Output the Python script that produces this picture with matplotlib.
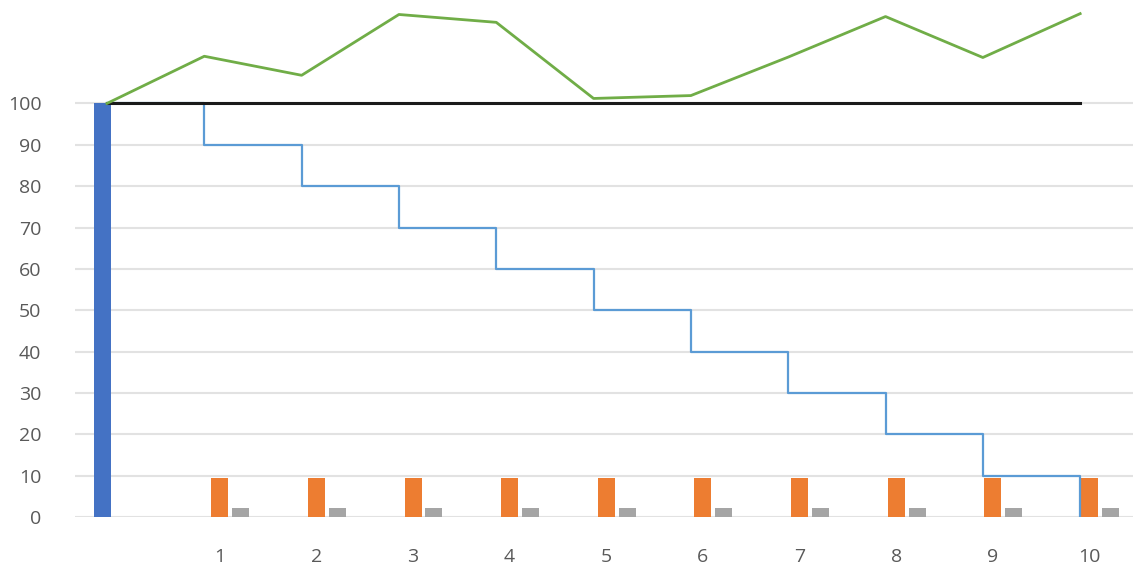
import numpy as np
import matplotlib
matplotlib.use("Agg")
import matplotlib.pyplot as plt

plt.rcParams["font.family"] = ["Open Sans", "DejaVu Sans"]

# ======================
# Data
# ======================

categories = ["", "1", "2", "3", "4", "5", "6", "7", "8", "9", "10"]
blue_bars = [100, 0, 0, 0, 0, 0, 0, 0, 0, 0, 0]
orange_bars = [0, 9.5, 9.5, 9.5, 9.5, 9.5, 9.5, 9.5, 9.5, 9.5, 9.5]
gray_bars = [0, 2.1, 2.1, 2.1, 2.1, 2.1, 2.1, 2.1, 2.1, 2.1, 2.1]

line_steps = [0, 1, 2, 3, 4, 5, 6, 7, 8, 9, 10]
step_values = [100, 90, 80, 70, 60, 50, 40, 30, 20, 10, 0]
green_values = [100, 111.4, 106.8, 121.5, 119.6, 101.2, 101.9, 111.2, 121.0, 111.1, 121.7]
black_values = [100] * 11

# ======================
# Plot
# ======================

fig = plt.figure(figsize=(11.33, 5.67), dpi=100)
ax = fig.add_axes([0.066, 0.088, 0.934, 0.912])

x = np.arange(len(categories))
w = 0.176
gap = 0.217

ax.bar(x - gap, blue_bars, width=w, color="#4472C4", zorder=2)
ax.bar(x, orange_bars, width=w, color="#ED7D31", zorder=2)
ax.bar(x + gap, gray_bars, width=w, color="#A5A5A5", zorder=2)

ax.set_xlim(-0.5, 10.45)
ax.set_ylim(0, 125)
ax.set_yticks(np.arange(0, 101, 10))
ax.set_xticks(x)
ax.set_xticklabels(categories)

ax.grid(axis="y", color="#E2E2E2", linewidth=1.5, zorder=0)
ax.set_axisbelow(True)
for s in ax.spines.values():
    s.set_visible(False)
ax.tick_params(axis="both", length=0, labelsize=14, colors="#595959")
ax.tick_params(axis="y", pad=24)
ax.tick_params(axis="x", pad=22)

# lines on a secondary x scale
ax2 = ax.twiny()
ax2.set_xlim(-0.331, 10.543)
ax2.set_ylim(0, 125)
ax2.axis("off")

ax2.step(line_steps, step_values, where="post", color="#5B9BD5", linewidth=1.6, zorder=3)
ax2.plot(line_steps, black_values, color="#1A1A1A", linewidth=2.2, zorder=4)
ax2.plot(line_steps, green_values, color="#70AD47", linewidth=2.0, zorder=4)

fig.savefig("out.png", dpi=100)
